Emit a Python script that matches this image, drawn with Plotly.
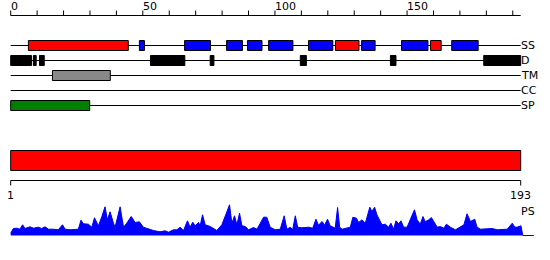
import plotly.graph_objects as go

# ---------------- data ----------------
seq_len = 193
ruler_ticks = list(range(0, 191, 10))
ruler_labels = [0, 50, 100, 150]

track_names = ["SS", "D", "TM", "CC", "SP"]

# secondary structure: start, end, type (H = helix red, E = strand blue)
ss_start = [6.7, 48.7, 65.8, 81.7, 89.6, 97.6, 112.7, 122.9, 132.8, 147.9, 158.9, 166.9]
ss_end = [44.5, 50.6, 75.6, 87.7, 95.1, 106.8, 121.9, 131.8, 137.9, 157.9, 162.9, 176.9]
ss_type = ["H", "E", "E", "E", "E", "E", "E", "H", "E", "E", "H", "E"]

# disorder
d_start = [0, 8.6, 10.9, 52.9, 75.5, 109.6, 143.7, 179.0]
d_end = [7.9, 9.65, 12.7, 65.9, 76.9, 111.9, 145.8, 193.0]

# transmembrane
tm_start = [15.8]
tm_end = [37.7]

# coiled coil (none)
cc_start = []
cc_end = []

# signal peptide
sp_start = [0]
sp_end = [29.9]

# domain bar
dom_start = [0]
dom_end = [193]
axis_labels = ["1", "193"]

# PS profile (position, height)
ps_pos = [0.0, 1.0, 2.3, 3.5, 4.5, 5.4, 7.3, 8.6, 10.5, 11.7, 13.0, 14.3, 16.1, 18.0, 19.6,
          20.6, 22.5, 25.6, 26.6, 27.5, 29.4, 30.7, 31.7, 33.2, 34.5, 35.7, 36.6, 37.6, 38.9,
          39.5, 41.4, 42.7, 43.9, 45.6, 47.1, 48.7, 50.2, 52.1, 54.0, 56.5, 58.4, 59.7, 61.6,
          62.9, 64.1, 65.4, 66.9, 67.9, 68.9, 69.8, 71.1, 71.7, 72.6, 73.6, 75.5, 78.0, 79.9,
          81.6, 82.8, 83.7, 84.7, 85.6, 86.6, 87.5, 88.8, 90.0, 91.9, 93.2, 94.2, 95.7, 96.9,
          98.2, 100.1, 102.0, 103.5, 104.5, 105.8, 106.7, 107.7, 108.6, 110.2, 112.7, 114.3,
          115.5, 116.5, 117.8, 118.8, 119.9, 120.9, 122.2, 122.8, 123.7, 124.5, 125.4, 127.3,
          128.5, 129.5, 130.8, 131.7, 132.9, 134.2, 135.9, 136.7, 137.7, 138.6, 139.5, 140.5,
          141.8, 143.0, 143.9, 144.9, 145.8, 146.8, 147.7, 148.7, 150.0, 151.6, 152.8, 153.8,
          155.0, 156.0, 156.9, 158.2, 159.2, 160.1, 161.4, 162.6, 163.9, 164.9, 166.4, 168.3,
          170.2, 171.5, 172.7, 174.0, 175.6, 176.5, 177.8, 179.7, 182.2, 184.1, 186.0, 187.9,
          189.8, 190.8, 191.6, 193.1, 193.8, 198.0]
ps_val = [2.3, 7.0, 7.3, 6.3, 10.7, 7.0, 8.7, 7.3, 8.3, 7.0, 8.7, 6.3, 6.3, 5.7, 10.7,
          6.3, 5.7, 6.3, 15.3, 11.7, 11.3, 8.3, 17.7, 9.7, 19.0, 28.7, 15.7, 23.7, 12.3,
          8.3, 28.7, 8.3, 12.3, 19.0, 13.0, 13.7, 8.3, 6.3, 5.0, 3.7, 4.7, 3.3, 5.7,
          5.7, 8.3, 5.0, 14.7, 8.3, 13.3, 9.7, 13.0, 9.7, 20.7, 10.7, 9.0, 5.0, 10.7,
          22.3, 30.7, 12.3, 19.7, 10.7, 22.3, 9.7, 9.0, 5.7, 8.0, 6.3, 11.7, 18.3, 18.3,
          8.3, 5.7, 6.3, 19.7, 6.3, 8.3, 5.7, 19.7, 8.3, 7.7, 8.3, 7.3,
          16.3, 10.3, 14.0, 10.3, 16.3, 9.7, 8.3, 7.3, 28.0, 8.3, 6.3, 7.7,
          8.3, 18.3, 17.3, 13.0, 15.7, 12.3, 28.3, 24.0, 28.3, 20.7, 16.3, 10.7,
          11.3, 8.3, 12.3, 6.3, 14.7, 11.7, 14.7, 8.3, 8.3, 17.3, 25.7, 15.7,
          11.3, 19.0, 13.7, 15.7, 18.0, 14.0, 8.3, 9.0, 7.3, 11.3, 8.3, 5.7,
          8.3, 10.7, 21.7, 14.0, 16.3, 8.3, 6.3, 6.3, 7.0, 5.7, 5.7, 6.3,
          12.3, 8.3, 8.3, 9.7, 0.0, 0.0]

# ---------------- layout helpers ----------------
W, H = 550, 260
x0px, x1px = 10.7, 520.7
ppu = (x1px - x0px) / seq_len
xr = [-x0px / ppu, (W - x0px) / ppu]

FONT = "DejaVu Sans"
track_y = {"SS": 45.5, "D": 60.5, "TM": 75.5, "CC": 90.5, "SP": 105.5}
half = 5

shapes = []
annotations = []

def line(xa, xb, ya, yb, color="black", width=1):
    shapes.append(dict(type="line", xref="x", yref="y", x0=xa, x1=xb, y0=ya, y1=yb,
                       line=dict(color=color, width=width), layer="above"))

def rect(xa, xb, ya, yb, fill, border="black"):
    shapes.append(dict(type="rect", xref="x", yref="y", x0=xa, x1=xb, y0=ya, y1=yb,
                       fillcolor=fill, line=dict(color=border, width=1), layer="above"))

# ruler
ruler_y = 15.5
line(0, seq_len, ruler_y, ruler_y)
for t in ruler_ticks:
    line(t, t, ruler_y, ruler_y - 5)
for t in ruler_labels:
    annotations.append(dict(x=t, y=6, xref="x", yref="y", text=str(t), showarrow=False,
                            xanchor="left", yanchor="middle", borderpad=0, borderwidth=0,
                            font=dict(family=FONT, size=11, color="black")))

# tracks
for name in track_names:
    y = track_y[name]
    line(0, seq_len, y, y)
    annotations.append(dict(x=seq_len, y=y, xref="x", yref="y", text=name, showarrow=False,
                            xanchor="left", yanchor="middle", borderpad=0, borderwidth=0,
                            font=dict(family=FONT, size=11, color="black")))

for s, e, t in zip(ss_start, ss_end, ss_type):
    rect(s, e, track_y["SS"] - half, track_y["SS"] + half, "#ff0000" if t == "H" else "#0000ff")
for s, e in zip(d_start, d_end):
    rect(s, e, track_y["D"] - half, track_y["D"] + half, "black")
for s, e in zip(tm_start, tm_end):
    rect(s, e, track_y["TM"] - half, track_y["TM"] + half, "#888888")
for s, e in zip(cc_start, cc_end):
    rect(s, e, track_y["CC"] - half, track_y["CC"] + half, "#ffaa00")
for s, e in zip(sp_start, sp_end):
    rect(s, e, track_y["SP"] - half, track_y["SP"] + half, "#008000")

# domain bar
for s, e in zip(dom_start, dom_end):
    rect(s, e, 150.5, 170.5, "#ff0000")

# bottom axis
by = 180.5
line(dom_start[0], dom_end[-1], by, by)
line(dom_start[0], dom_start[0], by, by + 5)
line(dom_end[-1], dom_end[-1], by, by + 5)
for xv, lab in zip([dom_start[0], dom_end[-1]], axis_labels):
    annotations.append(dict(x=xv, y=195.5, xref="x", yref="y", text=lab, showarrow=False,
                            xanchor="center", yanchor="middle", borderpad=0, borderwidth=0,
                            font=dict(family=FONT, size=11, color="black")))
annotations.append(dict(x=seq_len, y=211, xref="x", yref="y", text="PS", showarrow=False,
                        xanchor="left", yanchor="middle", borderpad=0, borderwidth=0,
                        font=dict(family=FONT, size=11, color="black")))

fig = go.Figure()
# invisible trace to establish main axes
fig.add_trace(go.Scatter(x=[xr[0], xr[1]], y=[0, H], mode="markers",
                         marker=dict(opacity=0), hoverinfo="skip", showlegend=False,
                         xaxis="x", yaxis="y"))
fig.add_trace(go.Scatter(x=ps_pos, y=ps_val, mode="lines", fill="tozeroy",
                         fillcolor="#0000ff", line=dict(color="#0000ff", width=1),
                         hoverinfo="skip", showlegend=False, xaxis="x", yaxis="y2"))

base_px = 236
fig.update_layout(
    width=W, height=H, autosize=False,
    margin=dict(l=0, r=0, t=0, b=0, pad=0),
    paper_bgcolor="white", plot_bgcolor="white",
    xaxis=dict(range=xr, visible=False, domain=[0, 1]),
    yaxis=dict(range=[H, 0], visible=False, domain=[0, 1]),
    yaxis2=dict(range=[-0.5, 39.5], visible=False, anchor="x",
                domain=[(H - base_px) / H, (H - base_px + 40) / H]),
    shapes=shapes, annotations=annotations, showlegend=False,
)
fig.write_html("out.html")
